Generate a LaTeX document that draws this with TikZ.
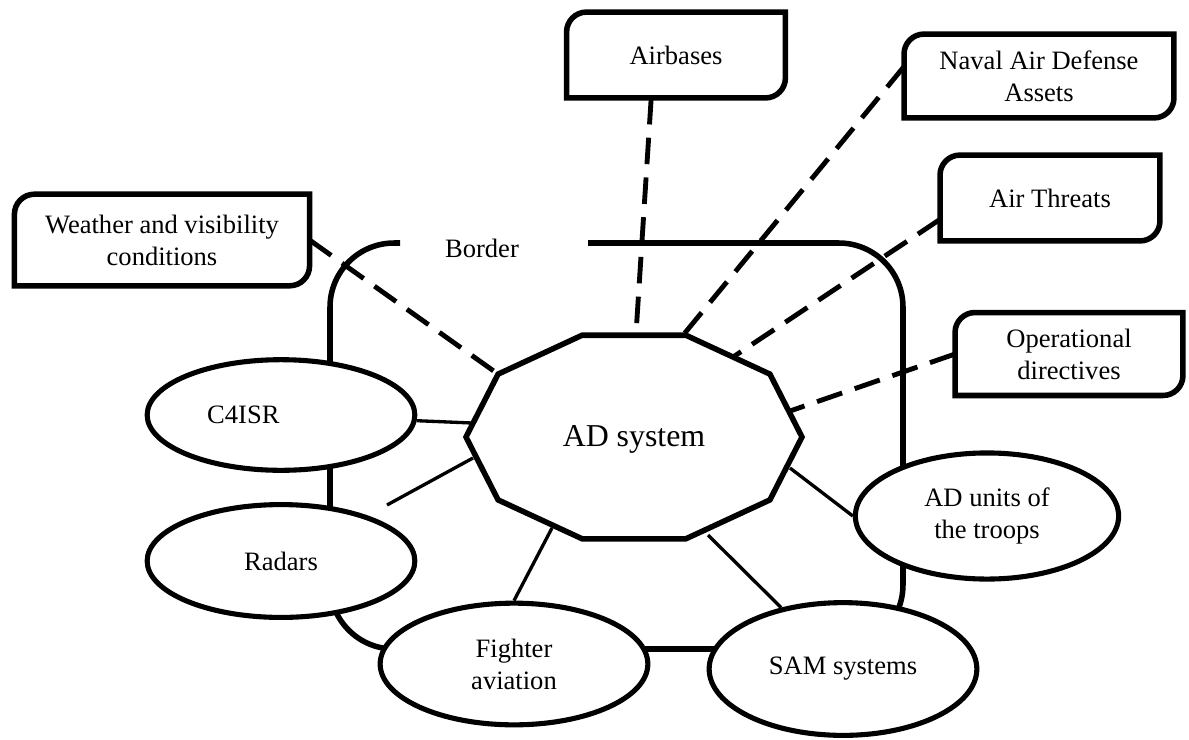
\documentclass[12pt,tikz,border=0pt]{standalone}
\usepackage{fontspec}
\setmainfont{Liberation Serif}
\usetikzlibrary{calc,shapes.geometric}

\tikzset{
  unit/.style={ellipse,draw,line width=2.3pt,fill=white,inner sep=0pt,minimum width=121pt,align=center},
  ctx/.style={inner sep=0pt,align=center},
  ctxline/.style={line width=2.5pt},
  solidlink/.style={line width=1.5pt},
  dashlink/.style={line width=2.2pt,dash pattern=on 12pt off 6pt},
}

% box with round top-left and bottom-right corners
\newcommand{\ctxframe}[1]{%
  \draw[ctxline] ([xshift=9pt]#1.north west) -- (#1.north east) -- ([yshift=9pt]#1.south east)
    arc[start angle=0,end angle=-90,radius=9pt] -- (#1.south west) -- ([yshift=-9pt]#1.north west)
    arc[start angle=180,end angle=90,radius=9pt] -- cycle;}

\begin{document}
\begin{tikzpicture}[x=0.452pt,y=-0.452pt]
\useasboundingbox (0,0) rectangle (1189,740);

% border
\draw[line width=2.5pt,rounded corners=29pt] (588,243) -- (903,243) -- (903,649) -- (330,649) -- (330,243) -- (400,243);
\node (brd) at (482,248) {Border};

% AD system
\foreach \k in {0,...,9}
  \coordinate (d\k) at ($(634,437)+(\k*36:168 and 107)$);
\draw[line width=2.5pt] (d0) \foreach \k in {1,...,9}{-- (d\k)} -- cycle;
\node[font=\large] (hub) at (634,439) {AD system};

\coordinate (hub-c4) at (472,423);
\coordinate (hub-rd) at (473,458);
\coordinate (hub-fa) at (552,528);
\coordinate (hub-sam) at (708,535);
\coordinate (hub-au) at (790,468);
\coordinate (hub-ab) at (636,334);
\coordinate (hub-nv) at (684,334);
\coordinate (hub-at) at (733,357);
\coordinate (hub-od) at (790,411);
\coordinate (rd-end) at (387,505);

% own means
\node[unit,minimum height=50pt] (c4isr) at (281,415) {C4ISR\hspace*{34pt}};
\node[unit,minimum height=51pt] (radars) at (281,561) {Radars};
\node[unit,minimum height=55pt] (fighter) at (514,664) {Fighter\\aviation};
\node[unit,minimum height=60pt] (sam) at (843,669) {SAM systems};
\node[unit,minimum height=57pt,minimum width=119pt] (troops) at (987,516) {AD units of\\the troops};

% outside factors
\node[ctx,minimum width=133pt,minimum height=41pt] (weather) at (162,240) {Weather and visibility\\conditions};
\node[ctx,minimum width=98.5pt,minimum height=38.4pt] (airbases) at (676,55) {Airbases};
\node[ctx,minimum width=121.6pt,minimum height=37.5pt] (naval) at (1039,76) {Naval Air Defense\\Assets};
\node[ctx,minimum width=99pt,minimum height=38.4pt] (threats) at (1050,198) {Air Threats};
\node[ctx,minimum width=102.6pt,minimum height=37.1pt] (orders) at (1069,354) {Operational\\directives};
\ctxframe{weather}
\ctxframe{airbases}
\ctxframe{naval}
\ctxframe{threats}
\ctxframe{orders}

\draw[solidlink] (c4isr) -- (hub-c4);
\draw[solidlink] (hub-rd) -- (rd-end);
\draw[solidlink] (hub-fa) -- (fighter.north);
\draw[solidlink] (hub-sam) -- (sam);
\draw[solidlink] (hub-au) -- (troops.west);

\draw[dashlink] (weather.east) -- (d6);
\draw[dashlink] (airbases.240) -- (hub-ab);
\draw[dashlink] (naval.176) -- (hub-nv);
\draw[dashlink] (threats.191) -- (hub-at);
\draw[dashlink] (orders.west) -- (hub-od);
\end{tikzpicture}
\end{document}
